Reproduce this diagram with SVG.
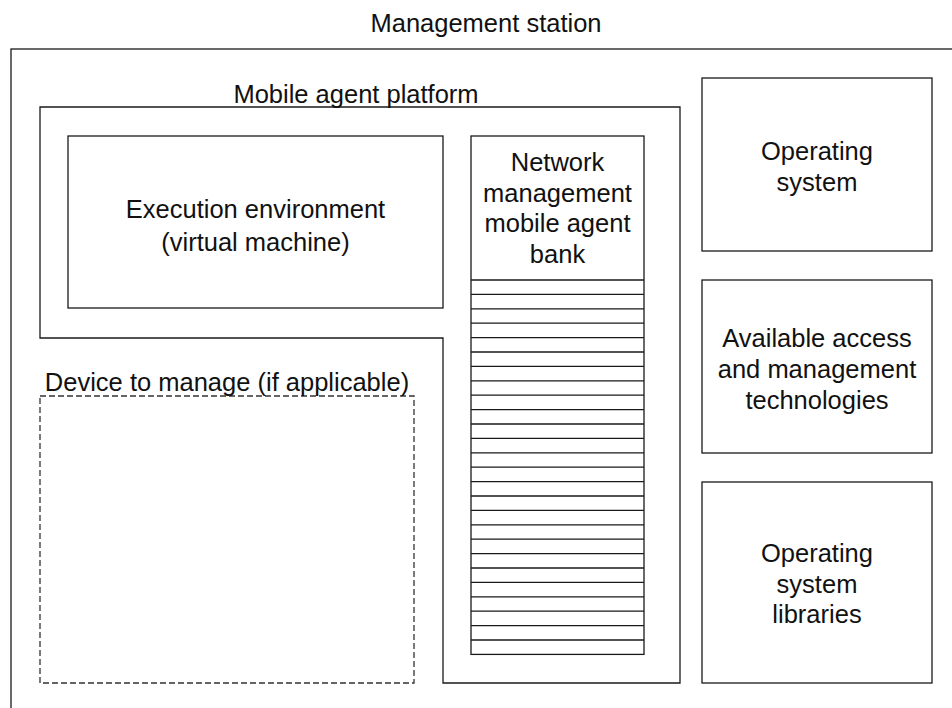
<svg xmlns="http://www.w3.org/2000/svg" width="952" height="708" viewBox="0 0 952 708">
<style>
.b{fill:#fff;stroke:#1a1a1a;stroke-width:1.3}
.d{fill:#fff;stroke:#333;stroke-width:1.3;stroke-dasharray:6,3}
.s{stroke:#1a1a1a;stroke-width:1.3;fill:none}
text{font-family:"Liberation Sans",Arial,Helvetica,sans-serif;font-size:25.5px;fill:#111;text-anchor:middle}
</style>
<rect width="952" height="708" fill="#fff"/>
<g id="management-station">
<rect class="b" x="11" y="49" width="960" height="700"/>
<text x="486" y="32">Management station</text>
</g>
<g id="mobile-agent-platform">
<path class="b" d="M40,107 H680 V683 H443 V338 H40 Z"/>
<text x="356" y="103">Mobile agent platform</text>
</g>
<g id="execution-environment">
<rect class="b" x="68" y="136" width="375" height="172"/>
<text x="255.5" y="218">Execution environment</text>
<text x="255.5" y="251">(virtual machine)</text>
</g>
<g id="agent-bank">
<rect class="b" x="471" y="136" width="173" height="518.4"/>
<text x="557.5" y="171">Network</text>
<text x="557.5" y="201.5">management</text>
<text x="557.5" y="232">mobile agent</text>
<text x="557.5" y="262.5">bank</text>
<path class="s" d="M471,280H644M471,294.4H644M471,308.8H644M471,323.2H644M471,337.6H644M471,352H644M471,366.4H644M471,380.8H644M471,395.2H644M471,409.6H644M471,424H644M471,438.4H644M471,452.8H644M471,467.2H644M471,481.6H644M471,496H644M471,510.4H644M471,524.8H644M471,539.2H644M471,553.6H644M471,568H644M471,582.4H644M471,596.8H644M471,611.2H644M471,625.6H644M471,640H644"/>
</g>
<g id="device-to-manage">
<rect class="d" x="40" y="396" width="374" height="287"/>
<text x="227" y="391">Device to manage (if applicable)</text>
</g>
<g id="operating-system">
<rect class="b" x="702" y="78" width="230" height="173"/>
<text x="817" y="160">Operating</text>
<text x="817" y="190.5">system</text>
</g>
<g id="access-technologies">
<rect class="b" x="702" y="280" width="230" height="173"/>
<text x="817" y="347">Available access</text>
<text x="817" y="378">and management</text>
<text x="817" y="409">technologies</text>
</g>
<g id="os-libraries">
<rect class="b" x="702" y="482" width="230" height="201"/>
<text x="817" y="562">Operating</text>
<text x="817" y="592.5">system</text>
<text x="817" y="623">libraries</text>
</g>
<g id="connectors"></g>
</svg>
